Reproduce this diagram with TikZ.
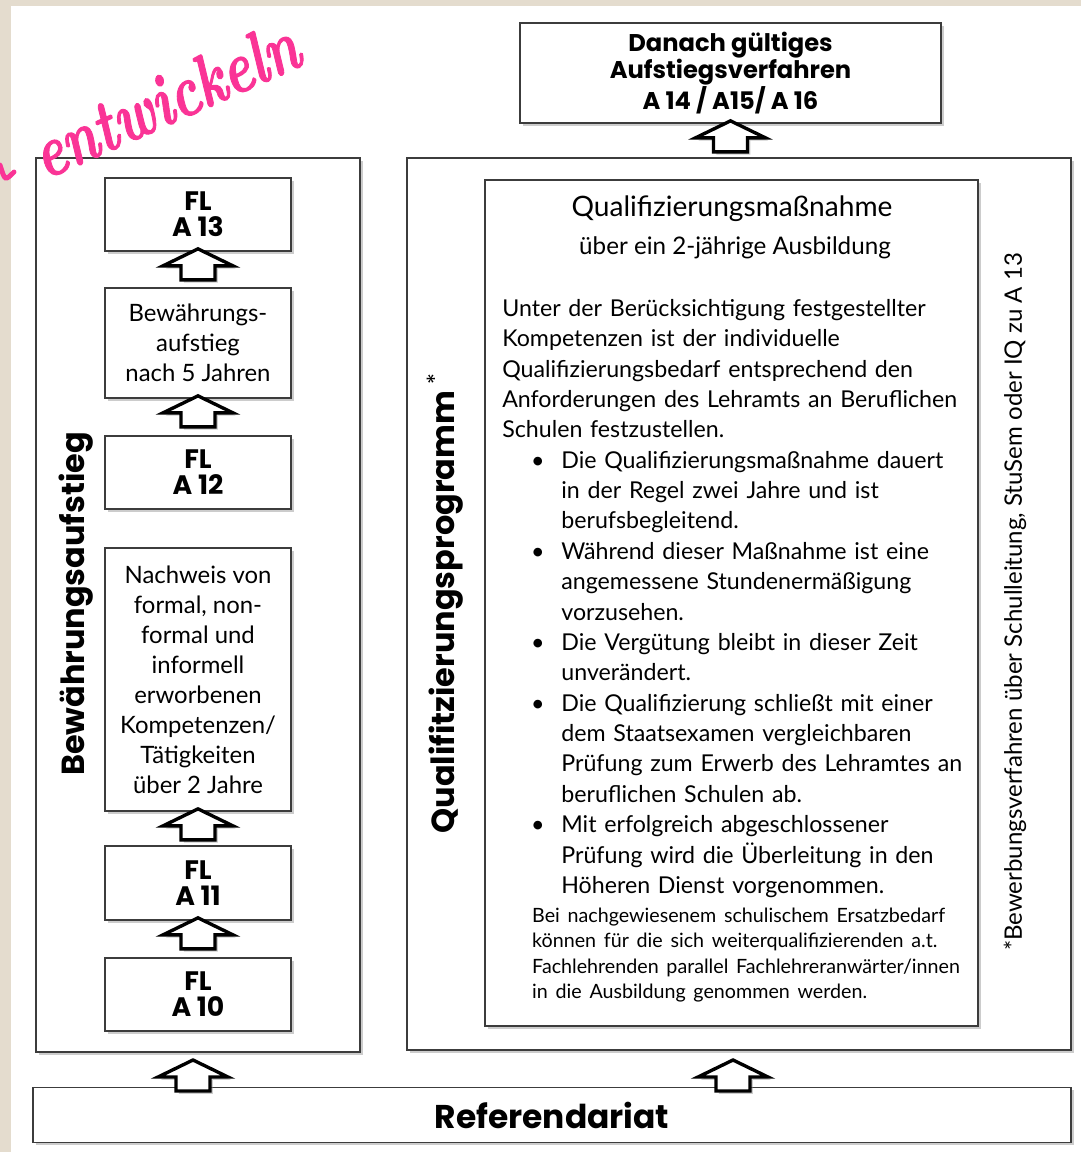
\documentclass[tikz,border=0pt]{standalone}
\usepackage{fontspec}
\usepackage{tikz}
\usetikzlibrary{shadows,positioning,calc}
\newfontfamily\bodyfont{Lato}
\newfontfamily\headfont{Poppins}
\newfontfamily\handfont{lmroman10-bolditalic}[Extension=.otf, FakeBold=1.5]
\definecolor{paper}{RGB}{228,220,206}
\definecolor{framegray}{RGB}{60,60,60}
\definecolor{markerpink}{RGB}{250,52,150}

\begin{document}
\begin{tikzpicture}[x=0.025cm, y=-0.025cm,
  box/.style={draw=framegray, line width=1.2pt, fill=white, drop shadow={shadow xshift=2pt, shadow yshift=-2pt, opacity=0.4}},
  flbox/.style={box, minimum width=4.65cm, minimum height=1.825cm, align=center, font=\headfont\bfseries\fontsize{19}{18.5}\selectfont},
  txtbox/.style={box, minimum width=4.65cm, align=center, font=\bodyfont\fontsize{17}{21.3}\selectfont},
  sidelabel/.style={rotate=90, font=\headfont\bfseries\fontsize{22.7}{25}\selectfont},
  uparrow/.pic={\draw[line width=2.4pt, fill=white, drop shadow={shadow xshift=2pt, shadow yshift=-2pt, opacity=0.4}] (0,0) -- (35,17) -- (17,17) -- (17,31) -- (-17,31) -- (-17,17) -- (-35,17) -- cycle;}]
\fill[paper] (0,0) rectangle (1081,1152);
\fill[white] (11,6) rectangle (1081,1152);
\useasboundingbox (0,0) rectangle (1081,1152);

\node[box, minimum width=8.1cm, minimum height=22.35cm] (bewauf) at (198,605) {};
\node[box, minimum width=16.6cm, minimum height=22.3cm] (qprog) at (739,604) {};
\node[box, minimum width=12.325cm, minimum height=21.15cm] (qmass) at (731.5,603) {};
\node[box, minimum width=10.525cm, minimum height=2.5cm, align=center, font=\headfont\bfseries\fontsize{17.2}{19.2}\selectfont] (target) at (730.5,73) {Danach gültiges\\Aufstiegsverfahren\\A 14 / A15/ A 16};
\node[box, minimum width=25.95cm, minimum height=1.375cm, font=\headfont\bfseries\fontsize{23.4}{26}\selectfont] (referendariat) at (552,1115) {Referendariat};

\node[rotate=24, xscale=0.92, yscale=1.25, transform shape, text=markerpink, font=\handfont\fontsize{42}{42}\selectfont] (scribble) at (165,99) {entwickeln};
\draw[markerpink, line width=3.5pt, line cap=round] (0,165) .. controls (5,181) .. (14,172);

\node[flbox] (fl13) at (198,214.5) {FL\\A 13};
\node[txtbox, minimum height=2.75cm] (bewnach) at (198,343) {Bewährungs-\\aufstieg\\nach 5 Jahren};
\node[flbox] (fl12) at (198,472.5) {FL\\A 12};
\node[txtbox, minimum height=6.575cm] (nachweis) at (198,679.5) {Nachweis von\\formal, non-\\formal und\\informell\\erworbenen\\Kompetenzen/\\Tätigkeiten\\über 2 Jahre};
\node[flbox, minimum height=1.85cm] (fl11) at (198,883) {FL\\A 11};
\node[flbox] (fl10) at (198,994.5) {FL\\A 10};

\node[sidelabel] (bewlabel) at (76,604) {Bewährungsaufstieg};
\node[sidelabel] (qlabel) at (445,603) {Qualifitzierungsprogramm {\mdseries\textsuperscript{*}}};
\node[rotate=90, font=\bodyfont\fontsize{17.1}{19}\selectfont] (bewerbung) at (1015,602) {*Bewerbungsverfahren über Schulleitung, StuSem oder IQ zu A 13};

\node[font=\bodyfont\fontsize{20}{24}\selectfont] (qtitle) at (732,209) {Qualifizierungsmaßnahme};
\node[font=\bodyfont\fontsize{17.2}{20}\selectfont] (qsub) at (735,248) {über ein 2-jährige Ausbildung};
\node[anchor=north west, inner sep=0pt, text width=11.9cm, align=left, font=\bodyfont\fontsize{16.5}{21.6}\selectfont] (qtext) at (502,299) {%
Unter der Berücksichtigung festgestellter\\
Kompetenzen ist der individuelle\\
Qualifizierungsbedarf entsprechend den\\
Anforderungen des Lehramts an Beruflichen\\
Schulen festzustellen.
\begin{list}{\textbullet}{\setlength{\leftmargin}{42pt}\setlength{\labelsep}{12pt}\setlength{\labelwidth}{20pt}\setlength{\itemsep}{0pt}\setlength{\topsep}{0pt}\setlength{\parsep}{0pt}\setlength{\partopsep}{0pt}}
\item Die Qualifizierungsmaßnahme dauert\\ in der Regel zwei Jahre und ist\\ berufsbegleitend.
\item Während dieser Maßnahme ist eine\\ angemessene Stundenermäßigung\\ vorzusehen.
\item Die Vergütung bleibt in dieser Zeit\\ unverändert.
\item Die Qualifizierung schließt mit einer\\ dem Staatsexamen vergleichbaren\\ Prüfung zum Erwerb des Lehramtes an\\ beruflichen Schulen ab.
\item Mit erfolgreich abgeschlossener\\ Prüfung wird die Überleitung in den\\ Höheren Dienst vorgenommen.
\end{list}
\vspace{2.6pt}
{\fontsize{14}{18}\selectfont\leftskip=21.3pt Bei nachgewiesenem schulischem Ersatzbedarf\\
können für die sich weiterqualifizierenden a.t.\\
Fachlehrenden parallel Fachlehreranwärter/innen\\
in die Ausbildung genommen werden.\par}
};

\pic at ($(target.south)+(0,-3)$) {uparrow};
\pic at ($(fl13.south)+(0,-3)$) {uparrow};
\pic at ($(bewnach.south)+(0,-3)$) {uparrow};
\pic at ($(nachweis.south)+(0,-3)$) {uparrow};
\pic at ($(fl11.south)+(0,-3)$) {uparrow};
\coordinate (lfoot) at (193,1060);
\coordinate (rfoot) at (733,1060);
\pic at (lfoot) {uparrow};
\pic at (rfoot) {uparrow};
\end{tikzpicture}
\end{document}
